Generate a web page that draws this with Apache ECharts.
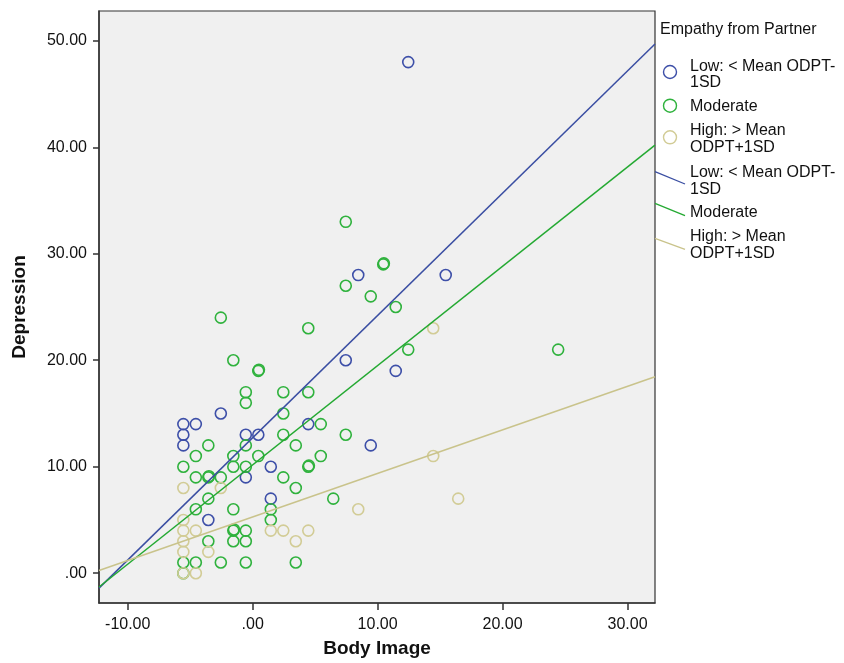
<!DOCTYPE html>
<html>
<head>
<meta charset="utf-8">
<script src="https://cdn.jsdelivr.net/npm/echarts@6/dist/echarts.min.js"></script>
<style>
html,body{margin:0;padding:0;background:#fff;}
#chart{width:844px;height:663px;}
</style>
</head>
<body>
<div id="chart"></div>
<script>
// ---- data ----
const legendTitle = 'Empathy from Partner';
const groupNames = ['Low: < Mean ODPT-\n1SD', 'Moderate', 'High: > Mean\nODPT+1SD'];
const xTicks = [-10, 0, 10, 20, 30];
const xTickLabels = ['-10.00', '.00', '10.00', '20.00', '30.00'];
const yTicks = [0, 10, 20, 30, 40, 50];
const yTickLabels = ['.00', '10.00', '20.00', '30.00', '40.00', '50.00'];
const xName = 'Body Image';
const yName = 'Depression';

const lowPoints = [
  [12.45,48],[8.45,28],[15.45,28],[7.45,20],[11.45,19],[9.45,12],[4.45,14],
  [-5.55,14],[-5.55,13],[-5.55,12],[-4.55,14],[-2.55,15],[-0.55,13],[0.45,13],
  [1.45,10],[-0.55,9],[-3.55,5],[1.45,7]
];
const moderatePoints = [
  [-5.55,10],[-5.55,1],[-5.55,0],
  [-4.55,11],[-4.55,9],[-4.55,6],[-4.55,1],
  [-3.55,12],[-3.55,9],[-3.5,9.1],[-3.55,7],[-3.55,3],
  [-2.55,24],[-2.55,9],[-2.55,1],
  [-1.55,20],[-1.55,11],[-1.55,10],[-1.55,6],[-1.55,4],[-1.5,4.1],[-1.55,3],
  [-0.55,17],[-0.55,16],[-0.55,12],[-0.55,10],[-0.55,4],[-0.55,3],[-0.55,1],
  [0.45,19],[0.5,19.1],[0.45,11],
  [1.45,6],[1.45,5],
  [2.45,17],[2.45,15],[2.45,13],[2.45,9],
  [3.45,12],[3.45,8],[3.45,1],
  [4.45,23],[4.45,17],[4.45,10],[4.5,10.1],
  [5.45,14],[5.45,11],
  [6.45,7],
  [7.45,33],[7.45,27],[7.45,13],
  [9.45,26],
  [10.45,29],[10.5,29.1],
  [11.45,25],
  [12.45,21],
  [24.45,21]
];
const highPoints = [
  [-5.55,8],[-5.55,5],[-5.55,4],[-5.55,3],[-5.55,2],[-5.55,0],[-4.55,4],[-4.55,0],
  [-3.55,2],[-2.55,8],[1.45,4],[2.45,4],[3.45,3],[4.45,4],[8.45,6],
  [14.45,23],[14.45,11],[16.45,7]
];
// fit lines (endpoints at the plot edges)
const lowFit = [[-12.3,-1.4],[32.2,49.7]];
const moderateFit = [[-12.3,-1.3],[32.2,40.2]];
const highFit = [[-12.3,0.25],[32.2,18.45]];

// ---- styling ----
const FONT = "'Liberation Sans', Arial, sans-serif";
const markerColors = ['#3d4fa8', '#2fb23d', '#d2cc96'];
const lineColors = ['#3a4ea2', '#24a932', '#c9c38b'];

const chart = echarts.init(document.getElementById('chart'), null, {renderer: 'canvas'});

function scatter(name, data, color) {
  return {
    name: name, type: 'scatter', data: data, symbol: 'circle', symbolSize: 11,
    itemStyle: {color: 'rgba(0,0,0,0)', borderColor: color, borderWidth: 1.6, opacity: 1},
    emphasis: {disabled: true}, z: 2
  };
}
function fit(name, data, color) {
  return {
    name: name, type: 'line', data: data, symbol: 'none', showSymbol: false,
    lineStyle: {color: color, width: 1.5}, emphasis: {disabled: true}, z: 3
  };
}

// legend graphic
const graphics = [];
graphics.push({type: 'text', left: 660, top: 22, style: {text: legendTitle, font: '16px ' + FONT, fill: '#111'}});
const markerRows = [{cy: 72, top: 58}, {cy: 105.7, top: 98.5}, {cy: 137.3, top: 122.5}];
const lineRows = [{y1: 171.7, y2: 184, top: 164.5}, {y1: 203.3, y2: 215.7, top: 204}, {y1: 238.3, y2: 249.3, top: 228.5}];
groupNames.forEach((nm, i) => {
  graphics.push({type: 'circle', shape: {cx: 670, cy: markerRows[i].cy, r: 6.5},
    style: {fill: 'none', stroke: markerColors[i], lineWidth: 1.4}});
  graphics.push({type: 'text', left: 690, top: markerRows[i].top,
    style: {text: nm, font: '16px ' + FONT, fill: '#111', lineHeight: 16.5}});
  graphics.push({type: 'line', shape: {x1: 655, y1: lineRows[i].y1, x2: 685, y2: lineRows[i].y2},
    style: {stroke: lineColors[i], lineWidth: 1.3}});
  graphics.push({type: 'text', left: 690, top: lineRows[i].top,
    style: {text: nm, font: '16px ' + FONT, fill: '#111', lineHeight: 16.5}});
});

const option = {
  animation: false,
  backgroundColor: '#ffffff',
  grid: {left: 99, right: 189, top: 11, bottom: 58, show: true,
    backgroundColor: '#f0f0f0', borderColor: '#333', borderWidth: 1.2},
  xAxis: {
    type: 'value', min: -12.3, max: 32.2,
    name: xName, nameLocation: 'middle', nameGap: 36,
    nameTextStyle: {fontFamily: FONT, fontWeight: 'bold', fontSize: 19, color: '#111'},
    axisLine: {show: true, onZero: false, lineStyle: {color: '#333', width: 1.5}},
    axisTick: {show: true, customValues: xTicks, length: 7, lineStyle: {color: '#333', width: 1.5}},
    axisLabel: {customValues: xTicks, margin: 14, fontFamily: FONT, fontSize: 16, color: '#111',
      formatter: v => xTickLabels[xTicks.indexOf(v)] || ''},
    splitLine: {show: false}
  },
  yAxis: {
    type: 'value', min: -2.8, max: 52.8,
    name: yName, nameLocation: 'middle', nameGap: 70, nameRotate: 90,
    nameTextStyle: {fontFamily: FONT, fontWeight: 'bold', fontSize: 19, color: '#111'},
    axisLine: {show: true, onZero: false, lineStyle: {color: '#333', width: 1.5}},
    axisTick: {show: true, customValues: yTicks, length: 6, lineStyle: {color: '#333', width: 1.5}},
    axisLabel: {customValues: yTicks, margin: 12, fontFamily: FONT, fontSize: 16, color: '#111',
      formatter: v => yTickLabels[yTicks.indexOf(v)] || ''},
    splitLine: {show: false}
  },
  series: [
    scatter(groupNames[0], lowPoints, markerColors[0]),
    scatter(groupNames[1], moderatePoints, markerColors[1]),
    scatter(groupNames[2], highPoints, markerColors[2]),
    fit(groupNames[0] + ' fit', lowFit, lineColors[0]),
    fit(groupNames[1] + ' fit', moderateFit, lineColors[1]),
    fit(groupNames[2] + ' fit', highFit, lineColors[2])
  ],
  graphic: graphics
};
chart.setOption(option);
</script>
</body>
</html>
